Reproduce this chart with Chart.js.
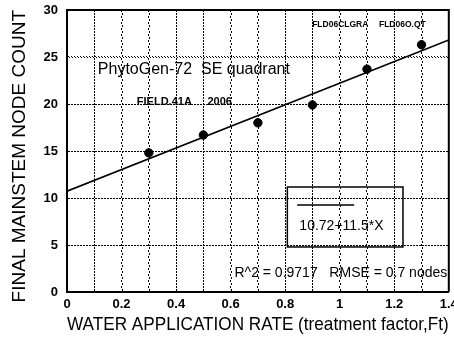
<!DOCTYPE html>
<html>
<head>
<meta charset="utf-8">
<script src="https://cdn.jsdelivr.net/npm/chart.js@4/dist/chart.umd.min.js"></script>
<style>
  html, body { margin: 0; padding: 0; background: #fff; }
</style>
</head>
<body>
<canvas id="c" width="454" height="337" style="display:block"></canvas>
<script>
// ---- data ----
const waterRate = [0.3, 0.5, 0.7, 0.9, 1.1, 1.3];
const nodeCount = [14.8, 16.7, 18.0, 19.9, 23.7, 26.3];
const fitIntercept = 10.72;
const fitSlope = 11.5;
const fitRange = [0, 1.4];
const xTickLabels = ['0', '0.2', '0.4', '0.6', '0.8', '1', '1.2', '1.4'];
const yTickLabels = ['0', '5', '10', '15', '20', '25', '30'];
const titleText = 'PhytoGen-72  SE quadrant';
const fieldText = 'FIELD.41A';
const yearText = '2006';
const treatLabels = ['FLD06CLGRA', 'FLD06O.QT'];
const equationText = '10.72+11.5*X';
const statsText = 'R^2 = 0.9717   RMSE = 0.7 nodes';

const FONT = '"Liberation Sans", Arial, Helvetica, sans-serif';

const fitLine = fitRange.map(x => ({ x: x, y: fitIntercept + fitSlope * x }));
const points = waterRate.map((x, i) => ({ x: x, y: nodeCount[i] }));

const annotations = {
  id: 'annotations',
  afterDatasetsDraw(chart) {
    const { ctx, chartArea: a } = chart;
    const xs = chart.scales.x, ys = chart.scales.y;
    const X = v => xs.getPixelForValue(v);
    const Y = v => ys.getPixelForValue(v);
    ctx.save();
    ctx.setLineDash([]);
    ctx.fillStyle = '#000';
    ctx.strokeStyle = '#000';

    // dashed vertical grid at every x tick (from the x scale)
    xs.ticks.forEach(t => {
      if (t.value <= xs.min || t.value >= xs.max) return;
      const px = Math.round(X(t.value));
      for (let y = Math.round(a.bottom) - 3; y > a.top; y -= 6) ctx.fillRect(px, y, 1, 2);
    });
    // dotted horizontal grid at every y tick (from the y scale)
    ys.ticks.forEach(t => {
      if (t.value <= ys.min || t.value >= ys.max) return;
      const py = Math.round(Y(t.value));
      for (let x = Math.round(a.left) + 2; x < a.right; x += 3) ctx.fillRect(x, py, 1, 1);
    });

    // plot frame: top and right (left/bottom are the axis borders)
    ctx.lineWidth = 2;
    ctx.beginPath();
    ctx.moveTo(a.left, a.top);
    ctx.lineTo(a.right, a.top);
    ctx.lineTo(a.right, a.bottom);
    ctx.stroke();

    ctx.textBaseline = 'alphabetic';
    ctx.textAlign = 'left';

    ctx.font = '16px ' + FONT;
    ctx.fillText(titleText, X(0.113), Y(23.2));

    ctx.font = 'bold 11px ' + FONT;
    ctx.fillText(fieldText, X(0.256), Y(19.9));
    ctx.fillText(yearText, X(0.515), Y(19.9));

    ctx.font = 'bold 8.5px ' + FONT;
    ctx.fillText(treatLabels[0], X(0.899), Y(28.2));
    ctx.fillText(treatLabels[1], X(1.144), Y(28.2));

    // equation box
    const bx0 = X(0.808), bx1 = X(1.232), by0 = Y(11.17), by1 = Y(4.79);
    ctx.lineWidth = 1.5;
    ctx.strokeRect(bx0, by0, bx1 - bx0, by1 - by0);
    ctx.beginPath();
    ctx.moveTo(X(0.844), Y(9.26));
    ctx.lineTo(X(1.053), Y(9.26));
    ctx.stroke();
    ctx.font = '14px ' + FONT;
    ctx.fillText(equationText, X(0.852), Y(6.6));

    ctx.font = '14px ' + FONT;
    ctx.fillText(statsText, X(0.614), Y(1.6));
    ctx.restore();
  }
};

new Chart(document.getElementById('c'), {
  type: 'scatter',
  data: {
    datasets: [
      {
        data: fitLine,
        showLine: true,
        borderColor: '#000',
        borderWidth: 1.6,
        pointRadius: 0,
        pointHoverRadius: 0,
        fill: false,
        tension: 0
      },
      {
        data: points,
        backgroundColor: '#000',
        borderColor: '#000',
        pointRadius: 4.2,
        pointHoverRadius: 4.2
      }
    ]
  },
  options: {
    responsive: false,
    animation: false,
    layout: { padding: { top: 10, right: 4, left: 0, bottom: 0 } },
    plugins: { legend: { display: false }, tooltip: { enabled: false } },
    scales: {
      x: {
        min: 0, max: 1.4,
        afterFit(s) { s.height = 45; s.paddingLeft = 0; s.paddingRight = 0; },
        ticks: {
          stepSize: 0.1,
          autoSkip: false,
          maxRotation: 0,
          padding: 5,
          color: '#000',
          font: { family: FONT, size: 13, weight: 'bold' },
          callback: (v, i) => (i % 2 === 0 ? xTickLabels[i / 2] : '')
        },
        grid: { color: '#000', lineWidth: 1, drawTicks: false },
        border: { display: true, color: '#000', width: 2, dash: [2, 4] },
        title: {
          display: true,
          text: 'WATER APPLICATION RATE (treatment factor,Ft)',
          align: 'start',
          color: '#000',
          font: { family: FONT, size: 17.8 },
          padding: { top: 0, bottom: 1.5 }
        }
      },
      y: {
        min: 0, max: 30,
        afterFit(s) { s.width = 67; s.paddingTop = 0; s.paddingBottom = 0; },
        ticks: {
          stepSize: 5,
          padding: 9,
          color: '#000',
          font: { family: FONT, size: 13, weight: 'bold' },
          callback: (v, i) => yTickLabels[i]
        },
        grid: { color: '#000', lineWidth: 1, drawTicks: false },
        border: { display: true, color: '#000', width: 2, dash: [1, 2] },
        title: {
          display: true,
          text: 'FINAL MAINSTEM NODE COUNT',
          align: 'end',
          color: '#000',
          font: { family: FONT, size: 19 },
          padding: { top: 8.5, bottom: 0 }
        }
      }
    }
  },
  plugins: [annotations]
});
</script>
</body>
</html>
